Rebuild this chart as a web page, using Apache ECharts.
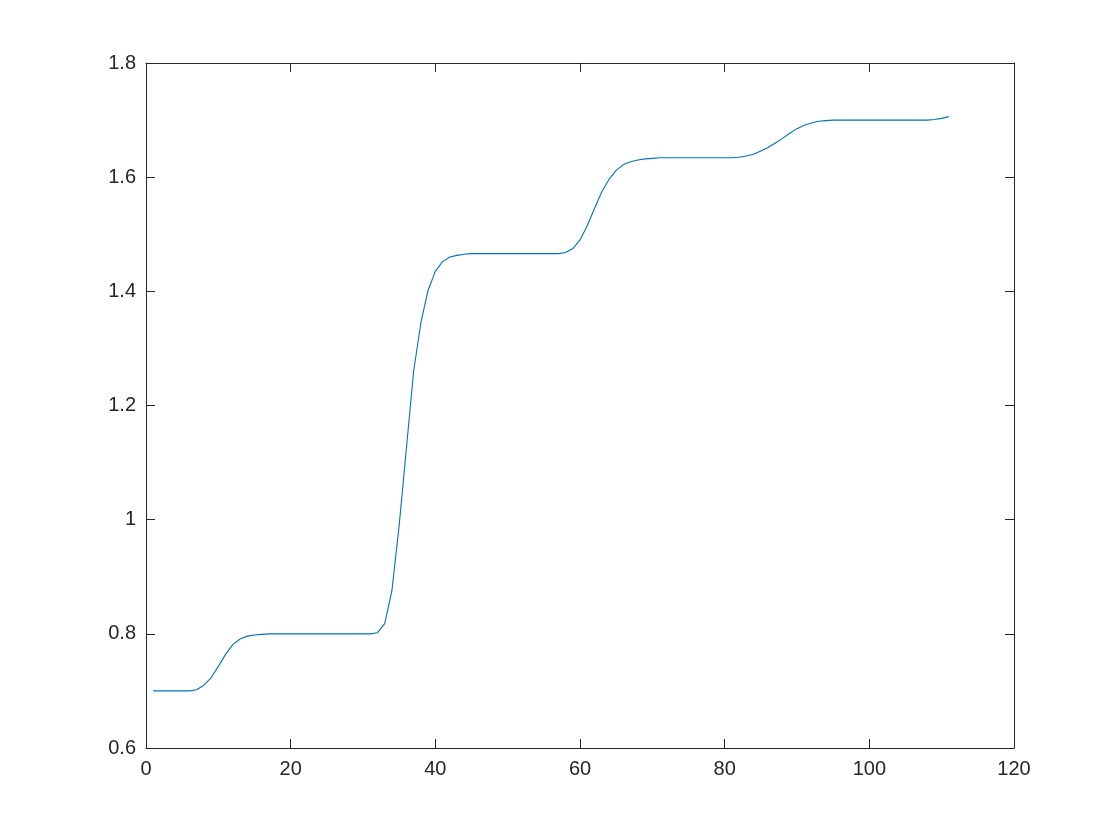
<!DOCTYPE html>
<html>
<head>
<meta charset="utf-8">
<title>chart</title>
<script src="https://cdn.jsdelivr.net/npm/echarts@6/dist/echarts.min.js"></script>
<style>
  html, body { margin: 0; padding: 0; background: #fff; }
  #chart { width: 1120px; height: 840px; }
</style>
</head>
<body>
<div id="chart"></div>
<script>
// x = 1..111
var xs = [];
for (var i = 1; i <= 111; i++) xs.push(i);

var ys = [
  0.700, 0.700, 0.700, 0.700, 0.700, 0.700, 0.702, 0.710, 0.723, 0.743,   // 1-10
  0.764, 0.781, 0.791, 0.796, 0.798, 0.799, 0.800, 0.800, 0.800, 0.800,   // 11-20
  0.800, 0.800, 0.800, 0.800, 0.800, 0.800, 0.800, 0.800, 0.800, 0.800,   // 21-30
  0.800, 0.802, 0.818, 0.876, 0.990, 1.125, 1.260, 1.345, 1.402, 1.435,   // 31-40
  1.452, 1.460, 1.463, 1.465, 1.466, 1.466, 1.466, 1.466, 1.466, 1.466,   // 41-50
  1.466, 1.466, 1.466, 1.466, 1.466, 1.466, 1.466, 1.468, 1.475, 1.490,   // 51-60
  1.515, 1.545, 1.574, 1.596, 1.612, 1.622, 1.627, 1.630, 1.632, 1.633,   // 61-70
  1.634, 1.634, 1.634, 1.634, 1.634, 1.634, 1.634, 1.634, 1.634, 1.634,   // 71-80
  1.634, 1.635, 1.637, 1.640, 1.646, 1.652, 1.660, 1.668, 1.677, 1.685,   // 81-90
  1.691, 1.695, 1.698, 1.699, 1.700, 1.700, 1.700, 1.700, 1.700, 1.700,   // 91-100
  1.700, 1.700, 1.700, 1.700, 1.700, 1.700, 1.700, 1.700, 1.701, 1.703,   // 101-110
  1.706                                                                   // 111
];

var xTicks = [0, 20, 40, 60, 80, 100, 120];
var yTicks = [0.6, 0.8, 1, 1.2, 1.4, 1.6, 1.8];

var axisColor = "#262626";
var font = "'Liberation Sans', Arial, Helvetica, sans-serif";

var pts = xs.map(function (x, k) { return [x, ys[k]]; });

function xAx(pos, showLabel) {
  return {
    type: "value",
    position: pos,
    min: xTicks[0],
    max: xTicks[xTicks.length - 1],
    interval: 20,
    axisLine: { show: true, onZero: false, lineStyle: { color: axisColor, width: 1 } },
    axisTick: { show: true, inside: true, length: 9, lineStyle: { color: axisColor } },
    axisLabel: { show: showLabel, color: axisColor, fontSize: 20, fontFamily: font, margin: 11 },
    splitLine: { show: false }
  };
}
function yAx(pos, showLabel) {
  return {
    type: "value",
    position: pos,
    min: yTicks[0],
    max: yTicks[yTicks.length - 1],
    interval: 0.2,
    axisLine: { show: true, onZero: false, lineStyle: { color: axisColor, width: 1 } },
    axisTick: { show: true, inside: true, length: 9, lineStyle: { color: axisColor } },
    axisLabel: {
      show: showLabel, color: axisColor, fontSize: 20, fontFamily: font, margin: 10,
      formatter: function (v) { return String(Math.round(v * 10) / 10); }
    },
    splitLine: { show: false }
  };
}

var myChart = echarts.init(document.getElementById("chart"));
myChart.setOption({
  backgroundColor: "#fff",
  animation: false,
  grid: { left: 146, top: 63, width: 868, height: 685 },
  xAxis: [xAx("bottom", true), xAx("top", false)],
  yAxis: [yAx("left", true), yAx("right", false)],
  series: [
    {
      type: "line",
      data: pts,
      showSymbol: false,
      lineStyle: { color: "#0072BD", width: 1.1 },
      itemStyle: { color: "#0072BD" }
    }
  ]
});
</script>
</body>
</html>
